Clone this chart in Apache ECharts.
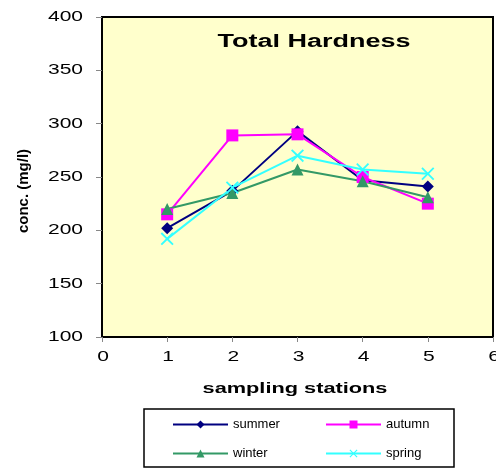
<!DOCTYPE html>
<html>
<head>
<meta charset="utf-8">
<script src="https://cdn.jsdelivr.net/npm/echarts@6/dist/echarts.min.js"></script>
<style>
  html, body { margin: 0; padding: 0; background: #ffffff; }
  #chart { width: 496px; height: 469px; }
</style>
</head>
<body>
<div id="chart"></div>
<script>
// Sampling stations on the x axis
const stations = [1, 2, 3, 4, 5];

// Total hardness, mg/l, per season
const summer = [202, 237, 293, 247, 241];
const autumn = [215, 289, 290, 250, 225];
const winter = [220, 235, 257, 246, 231];
const spring = [192, 240, 270, 257, 253];

// Tick labels
const xTicks = [0, 1, 2, 3, 4, 5, 6];
const yTicks = [100, 150, 200, 250, 300, 350, 400];

const seriesNames = ['summer', 'autumn', 'winter', 'spring'];

// Filled cross outline used as the spring marker
const crossPath = 'path://M0,1L1,0L5,4L9,0L10,1L6,5L10,9L9,10L5,6L1,10L0,9L4,5Z';

const pairs = (vals) => stations.map((s, i) => [s, vals[i]]);

const chart = echarts.init(document.getElementById('chart'), null, { renderer: 'canvas' });

const font = 'Liberation Sans, Arial, sans-serif';
const WIDE = 1.5; // horizontal stretch of the printed lettering

const legendBase = {
  itemWidth: 55,
  itemHeight: 10,
  padding: 0,
  textStyle: { fontFamily: font, fontSize: 13, color: '#000' }
};

function legendAt(name, left, top) {
  return Object.assign({ data: [name], left: left, top: top }, legendBase);
}

chart.setOption({
  backgroundColor: '#ffffff',
  animation: false,
  grid: {
    left: 102, right: 3, top: 17, bottom: 132,
    show: true,
    backgroundColor: '#FFFFCC',
    borderColor: '#000',
    borderWidth: 2
  },
  xAxis: {
    type: 'value',
    min: 0, max: 6, interval: 1,
    axisLine: { show: false },
    axisTick: { show: true, length: 5, lineStyle: { color: '#888' } },
    axisLabel: { show: false },
    splitLine: { show: false }
  },
  yAxis: {
    type: 'value',
    min: 100, max: 400, interval: 50,
    axisLine: { show: false },
    axisTick: { show: true, length: 6, lineStyle: { color: '#888' } },
    axisLabel: { show: false },
    splitLine: { show: false }
  },
  legend: [
    legendAt(seriesNames[0], 172, 418),
    legendAt(seriesNames[1], 325, 418),
    legendAt(seriesNames[2], 172, 447),
    legendAt(seriesNames[3], 325, 447)
  ],
  series: [
    {
      name: 'summer', type: 'line', data: pairs(summer),
      symbol: 'diamond', symbolSize: 12,
      lineStyle: { color: '#000080', width: 2 },
      itemStyle: { color: '#000080' }
    },
    {
      name: 'autumn', type: 'line', data: pairs(autumn),
      symbol: 'rect', symbolSize: 12,
      lineStyle: { color: '#FF00FF', width: 2 },
      itemStyle: { color: '#FF00FF' }
    },
    {
      name: 'winter', type: 'line', data: pairs(winter),
      symbol: 'triangle', symbolSize: 12,
      lineStyle: { color: '#339966', width: 2 },
      itemStyle: { color: '#339966' }
    },
    {
      name: 'spring', type: 'line', data: pairs(spring),
      symbol: crossPath, symbolSize: 13,
      lineStyle: { color: '#33FFFF', width: 2 },
      itemStyle: { color: '#33FFFF' }
    }
  ]
});

// Stretched lettering: tick labels, title, axis names, legend frame
const gfx = [];

yTicks.forEach((v) => {
  const p = chart.convertToPixel({ gridIndex: 0 }, [0, v]);
  gfx.push({
    type: 'text', x: 83, y: p[1], scaleX: WIDE,
    style: { text: String(v), font: '14px ' + font, fill: '#000',
             textAlign: 'right', textVerticalAlign: 'middle' }
  });
});

xTicks.forEach((v) => {
  const p = chart.convertToPixel({ gridIndex: 0 }, [v, 100]);
  gfx.push({
    type: 'text', x: p[0] + 1, y: 357, scaleX: WIDE,
    style: { text: String(v), font: '14px ' + font, fill: '#000',
             textAlign: 'center', textVerticalAlign: 'middle' }
  });
});

gfx.push({
  type: 'text', x: 314, y: 42, scaleX: WIDE,
  style: { text: 'Total Hardness', font: 'bold 18px ' + font, fill: '#000',
           textAlign: 'center', textVerticalAlign: 'middle' }
});

gfx.push({
  type: 'text', x: 295, y: 389, scaleX: 1.45,
  style: { text: 'sampling stations', font: 'bold 15px ' + font, fill: '#000',
           textAlign: 'center', textVerticalAlign: 'middle' }
});

gfx.push({
  type: 'text', x: 24, y: 191, rotation: Math.PI / 2,
  style: { text: 'conc. (mg/l)', font: 'bold 15px ' + font, fill: '#000',
           textAlign: 'center', textVerticalAlign: 'middle' }
});

gfx.push({
  type: 'rect', x: 144, y: 409,
  shape: { width: 310, height: 58 },
  style: { fill: 'none', stroke: '#000', lineWidth: 1.5 }
});

chart.setOption({ graphic: gfx });
</script>
</body>
</html>
